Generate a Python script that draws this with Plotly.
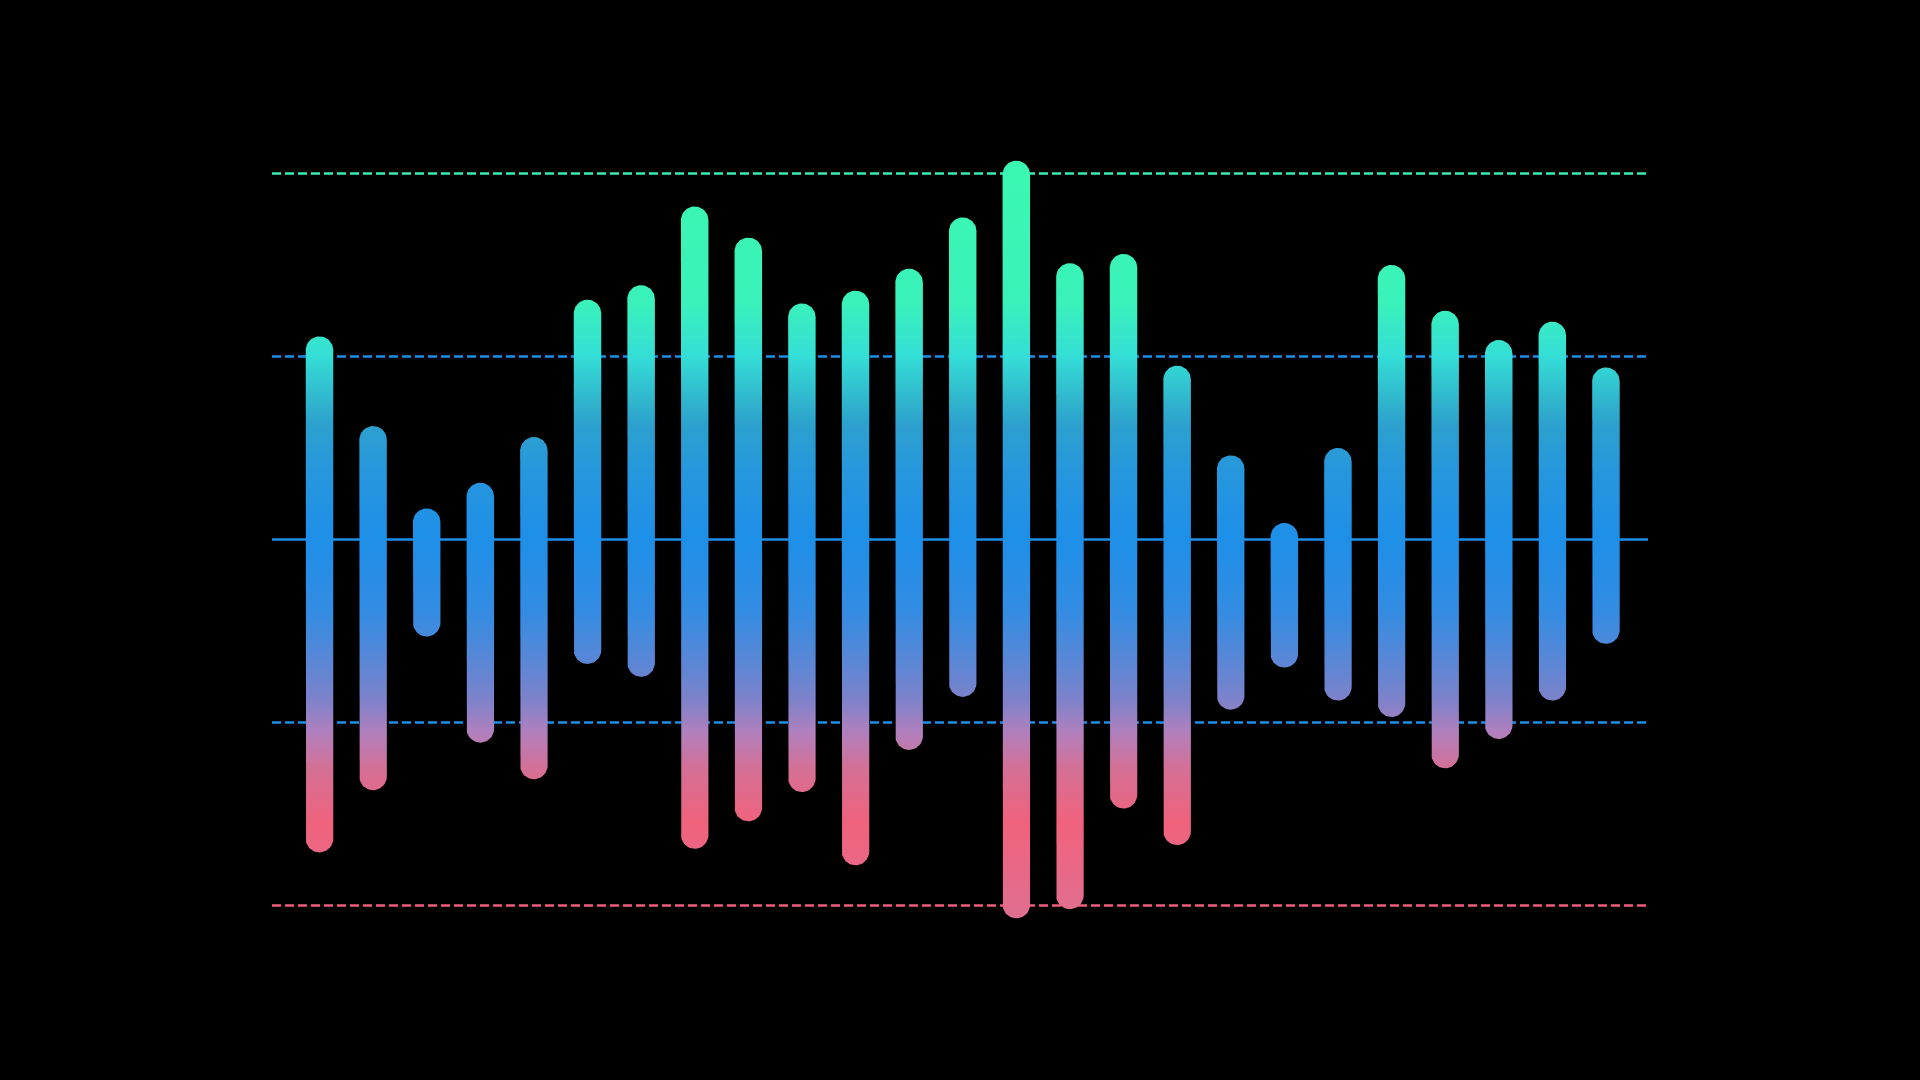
import math
import plotly.graph_objects as go

# ---------------- data ----------------
bar_index = list(range(1, 26))
bar_top = [1.11, 0.62, 0.17, 0.31, 0.56, 1.31, 1.39, 1.82, 1.65, 1.29,
           1.36, 1.48, 1.76, 2.07, 1.51, 1.56, 0.95, 0.46, 0.09, 0.50,
           1.50, 1.25, 1.09, 1.19, 0.94]
bar_bottom = [-1.71, -1.37, -0.53, -1.11, -1.31, -0.68, -0.75, -1.69, -1.54, -1.38,
              -1.78, -1.15, -0.86, -2.07, -2.02, -1.47, -1.67, -0.93, -0.70, -0.88,
              -0.97, -1.25, -1.09, -0.88, -0.57]

ref_levels = [2, 1, 0, -1, -2]
ref_colors = ["#3ce9b8", "#1e8fe6", "#1e8fe6", "#1e8fe6", "#ee5e7c"]
ref_dash = ["9px,4px", "9px,4px", "solid", "9px,4px", "9px,4px"]

# gradient stops (value on y axis, colour)
grad_values = [-2.1, -1.95, -1.55, -1.25, -1.05, -0.88, -0.7, -0.4, 0.0, 0.35, 0.62, 0.75, 1.0, 1.3, 2.1]
grad_colors = ["rgb(222,112,146)", "rgb(228,108,140)", "rgb(240,98,124)", "rgb(212,112,150)",
               "rgb(176,128,190)", "rgb(126,130,202)", "rgb(95,134,212)", "rgb(52,140,226)",
               "rgb(30,143,232)", "rgb(38,150,222)", "rgb(44,160,206)", "rgb(48,180,205)",
               "rgb(52,222,214)", "rgb(58,242,186)", "rgb(58,248,176)"]

# ---------------- layout geometry ----------------
W, H = 1920, 1080
M_L, M_R, M_T, M_B = 272, 272, 100, 101
X_RANGE = [0.114, 25.785]
Y_RANGE = [-2.4016, 2.4016]
BAR_W_PX = 27.5

px_per_x = (W - M_L - M_R) / (X_RANGE[1] - X_RANGE[0])
px_per_y = (H - M_T - M_B) / (Y_RANGE[1] - Y_RANGE[0])

g0, g1 = grad_values[0], grad_values[-1]
colorscale = [[(v - g0) / (g1 - g0), c] for v, c in zip(grad_values, grad_colors)]


def capsule(xc, top, bottom, n=28):
    rx = BAR_W_PX / 2 / px_per_x
    ry = BAR_W_PX / 2 / px_per_y
    xs, ys = [], []
    for k in range(n + 1):
        th = math.pi * k / n
        xs.append(xc + rx * math.cos(th))
        ys.append(top - ry + ry * math.sin(th))
    for k in range(n + 1):
        th = math.pi + math.pi * k / n
        xs.append(xc + rx * math.cos(th))
        ys.append(bottom + ry + ry * math.sin(th))
    xs.append(xs[0])
    ys.append(ys[0])
    return xs, ys


fig = go.Figure()

for xi, t, b in zip(bar_index, bar_top, bar_bottom):
    xs, ys = capsule(xi, t, b)
    fig.add_trace(go.Scatter(
        x=xs, y=ys, mode="lines", fill="toself",
        line=dict(width=0, color="rgba(0,0,0,0)"),
        fillgradient=dict(type="vertical", colorscale=colorscale, start=g0, stop=g1),
        hoverinfo="skip", showlegend=False,
    ))

for lv, col, dsh in zip(ref_levels, ref_colors, ref_dash):
    fig.add_shape(type="line", xref="paper", yref="y", x0=0, x1=1, y0=lv, y1=lv,
                  line=dict(color=col, width=2.5, dash=dsh), layer="below")

fig.update_layout(
    width=W, height=H,
    margin=dict(l=M_L, r=M_R, t=M_T, b=M_B, pad=0),
    paper_bgcolor="black", plot_bgcolor="black",
    xaxis=dict(range=X_RANGE, visible=False, fixedrange=True),
    yaxis=dict(range=Y_RANGE, visible=False, fixedrange=True),
    showlegend=False,
)

fig.write_html("out.html", config={"displayModeBar": False},
               post_script="document.body.style.margin='0';document.body.style.overflow='hidden';")
